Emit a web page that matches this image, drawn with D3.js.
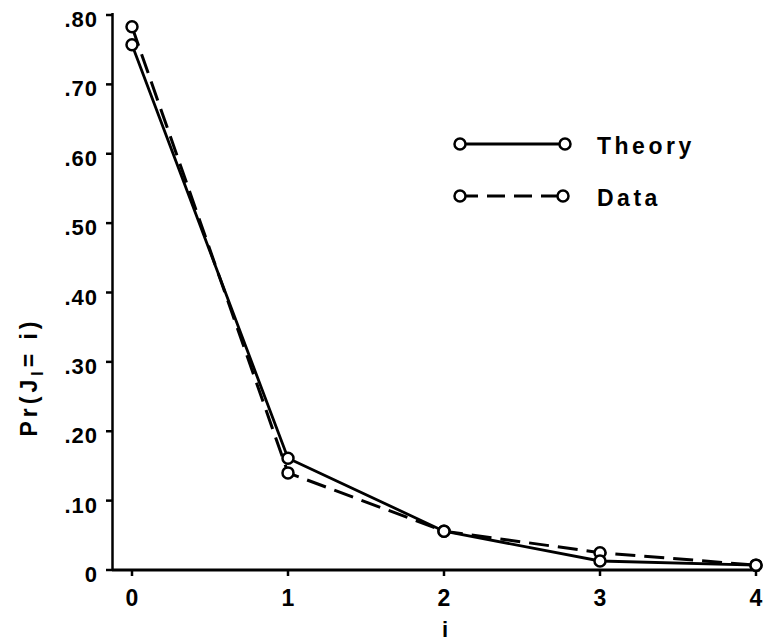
<!DOCTYPE html>
<html><head><meta charset="utf-8">
<script src="https://cdn.jsdelivr.net/npm/d3@7"></script>
<style>
body{margin:0;background:#fff;}
text{font-family:"Liberation Sans",Arial,sans-serif;font-weight:bold;fill:#000;}
</style></head>
<body><svg id="c" width="763" height="644"></svg>
<script>
const categories = [0, 1, 2, 3, 4];
const theory = [0.757, 0.161, 0.056, 0.013, 0.007];
const observed = [0.783, 0.140, 0.056, 0.025, 0.007];
const yTicks = [0, 0.1, 0.2, 0.3, 0.4, 0.5, 0.6, 0.7, 0.8];
const seriesNames = ["Theory", "Data"];

const svg = d3.select("#c");
const x = d3.scaleLinear().domain([0, 4]).range([132, 756]);
const y = d3.scaleLinear().domain([0, 0.8]).range([570, 15]);

// axes lines
svg.append("line").attr("x1", 112).attr("x2", 760).attr("y1", 570).attr("y2", 570)
  .attr("stroke", "#000").attr("stroke-width", 3);
svg.append("line").attr("x1", 112.5).attr("x2", 112.5).attr("y1", 571).attr("y2", 13)
  .attr("stroke", "#000").attr("stroke-width", 2.5);

// y ticks
const fmt = d => d === 0 ? "0" : d3.format(".2f")(d).replace(/^0/, "");
const yg = svg.append("g");
yg.selectAll("line").data(yTicks).join("line")
  .attr("x1", 106).attr("x2", 112).attr("y1", d => y(d)).attr("y2", d => y(d))
  .attr("stroke", "#000").attr("stroke-width", 2.5);
yg.selectAll("text").data(yTicks).join("text")
  .attr("x", 98).attr("y", d => y(d) + 12).attr("text-anchor", "end")
  .attr("font-size", 22).attr("letter-spacing", 1).text(fmt);

// x ticks
const xg = svg.append("g");
xg.selectAll("line").data(categories).join("line")
  .attr("x1", d => x(d)).attr("x2", d => x(d)).attr("y1", 570).attr("y2", 576)
  .attr("stroke", "#000").attr("stroke-width", 2.5);
xg.selectAll("text").data(categories).join("text")
  .attr("x", d => x(d)).attr("y", 606).attr("text-anchor", "middle")
  .attr("font-size", 23).text(d => d);

// axis titles
svg.append("text").attr("x", 445).attr("y", 637).attr("text-anchor", "middle")
  .attr("font-size", 22).text("i");
const yl = svg.append("text").attr("transform", "translate(37,377) rotate(-90)")
  .attr("text-anchor", "middle").attr("font-size", 23).attr("letter-spacing", 4);
yl.append("tspan").text("Pr(J");
yl.append("tspan").attr("dy", 6).attr("font-size", 16).text("I");
yl.append("tspan").attr("dy", -6).text("= i)");

// lines
const line = d3.line().x((d, i) => x(categories[i])).y(d => y(d));
svg.append("path").datum(observed).attr("d", line).attr("fill", "none")
  .attr("stroke", "#000").attr("stroke-width", 3).attr("stroke-dasharray", "20,9");
svg.append("path").datum(theory).attr("d", line).attr("fill", "none")
  .attr("stroke", "#000").attr("stroke-width", 2.8);

// points
[observed, theory].forEach(s => {
  svg.append("g").selectAll("circle").data(s).join("circle")
    .attr("cx", (d, i) => x(categories[i])).attr("cy", d => y(d)).attr("r", 5.5)
    .attr("fill", "#fff").attr("stroke", "#000").attr("stroke-width", 2.5);
});

// legend
const leg = [{name: seriesNames[0], y: 144, dash: null, x2: 565},
             {name: seriesNames[1], y: 196, dash: "18,9", x2: 563}];
leg.forEach(l => {
  svg.append("line").attr("x1", 460).attr("x2", l.x2).attr("y1", l.y).attr("y2", l.y)
    .attr("stroke", "#000").attr("stroke-width", 2.8).attr("stroke-dasharray", l.dash);
  [460, l.x2].forEach(cx => svg.append("circle").attr("cx", cx).attr("cy", l.y).attr("r", 5.5)
    .attr("fill", "#fff").attr("stroke", "#000").attr("stroke-width", 2.5));
  svg.append("text").attr("x", 597).attr("y", l.y + 10).attr("font-size", 23)
    .attr("letter-spacing", 3.5).text(l.name);
});
</script></body></html>
